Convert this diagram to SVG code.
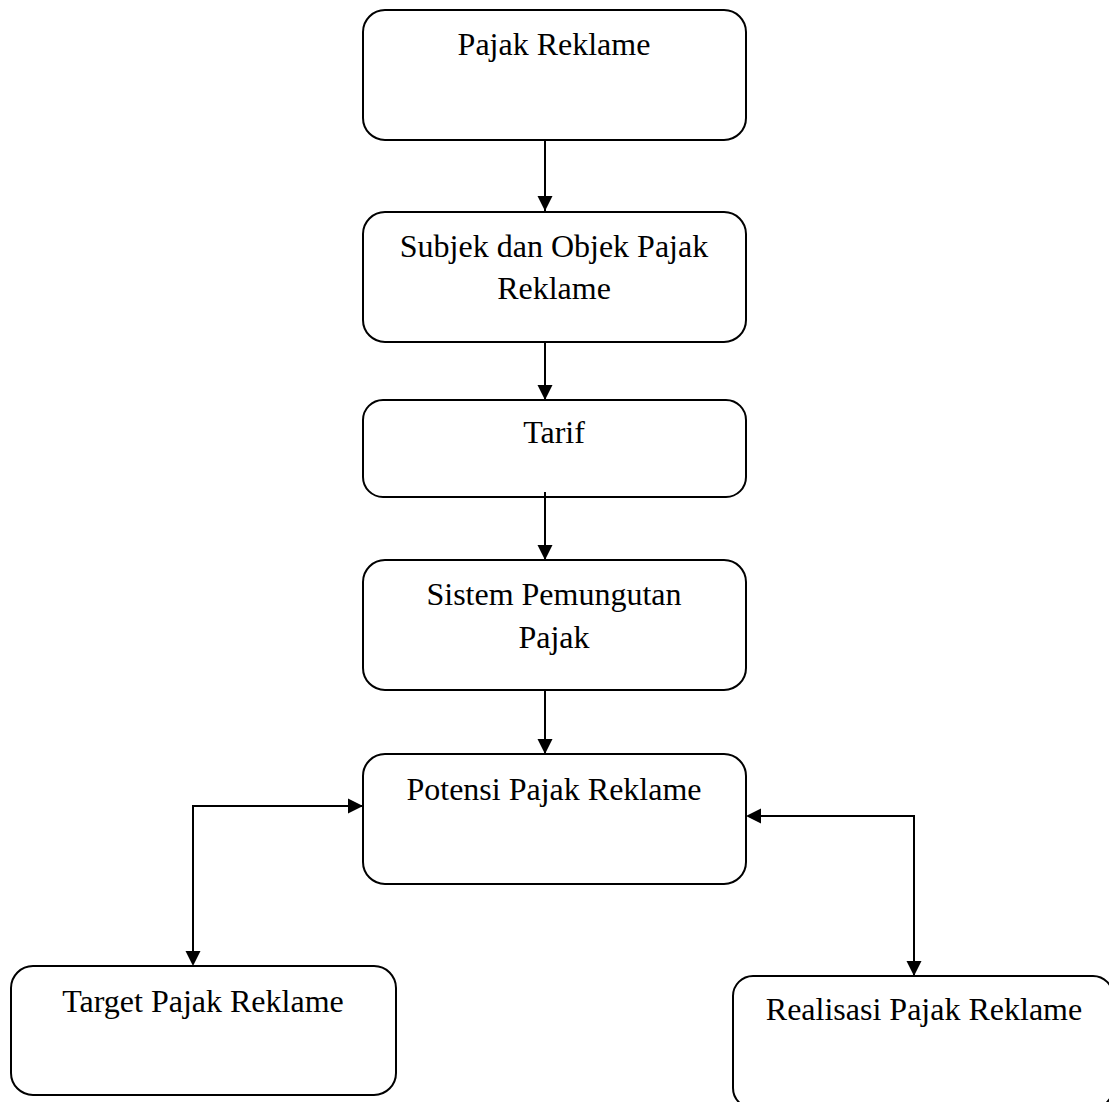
<svg xmlns="http://www.w3.org/2000/svg" width="1109" height="1102" viewBox="0 0 1109 1102">
<style>
.box{fill:#fff;stroke:#000;stroke-width:2}
.lbl{font-family:"Liberation Serif","Times New Roman",serif;font-size:32px;fill:#000;text-anchor:middle}
.con{fill:none;stroke:#000;stroke-width:2}
</style>
<defs>
<marker id="ah" markerUnits="userSpaceOnUse" markerWidth="16" markerHeight="16" viewBox="0 0 16 16" refX="15" refY="8" orient="auto">
<path d="M0,0.5 L15,8 L0,15.5 Z" fill="#000"/>
</marker>
</defs>
<rect width="1109" height="1102" fill="#fff"/>
<g id="n1"><rect class="box" x="363" y="10" width="383" height="130" rx="22"/><text class="lbl" x="554" y="55">Pajak Reklame</text></g>
<g id="n2"><rect class="box" x="363" y="212" width="383" height="130" rx="22"/><text class="lbl" x="554" y="257">Subjek dan Objek Pajak</text><text class="lbl" x="554" y="299">Reklame</text></g>
<g id="n3"><rect class="box" x="363" y="400" width="383" height="97" rx="20"/><text class="lbl" x="554" y="443">Tarif</text></g>
<g id="n4"><rect class="box" x="363" y="560" width="383" height="130" rx="22"/><text class="lbl" x="554" y="605">Sistem Pemungutan</text><text class="lbl" x="554" y="648">Pajak</text></g>
<g id="n5"><rect class="box" x="363" y="754" width="383" height="130" rx="22"/><text class="lbl" x="554" y="800">Potensi Pajak Reklame</text></g>
<g id="n6"><rect class="box" x="11" y="966" width="385" height="129" rx="22"/><text class="lbl" x="203" y="1012">Target Pajak Reklame</text></g>
<g id="n7"><rect class="box" x="733" y="976" width="380" height="132" rx="20"/><text class="lbl" x="924" y="1020">Realisasi Pajak Reklame</text></g>
<g id="connectors">
<line class="con" x1="545" y1="141" x2="545" y2="211" marker-end="url(#ah)"/>
<line class="con" x1="545" y1="343" x2="545" y2="400" marker-end="url(#ah)"/>
<line class="con" x1="545" y1="492" x2="545" y2="560" marker-end="url(#ah)"/>
<line class="con" x1="545" y1="690" x2="545" y2="754" marker-end="url(#ah)"/>
<polyline class="con" points="193,951 193,806 363,806" marker-end="url(#ah)"/>
<polyline class="con" points="761,816 914,816 914,976" marker-end="url(#ah)"/>
<path d="M193,966 l-7.5,-15 l15,0 Z" fill="#000"/>
<path d="M746,816 l15,-7.5 l0,15 Z" fill="#000"/>
</g>
</svg>
